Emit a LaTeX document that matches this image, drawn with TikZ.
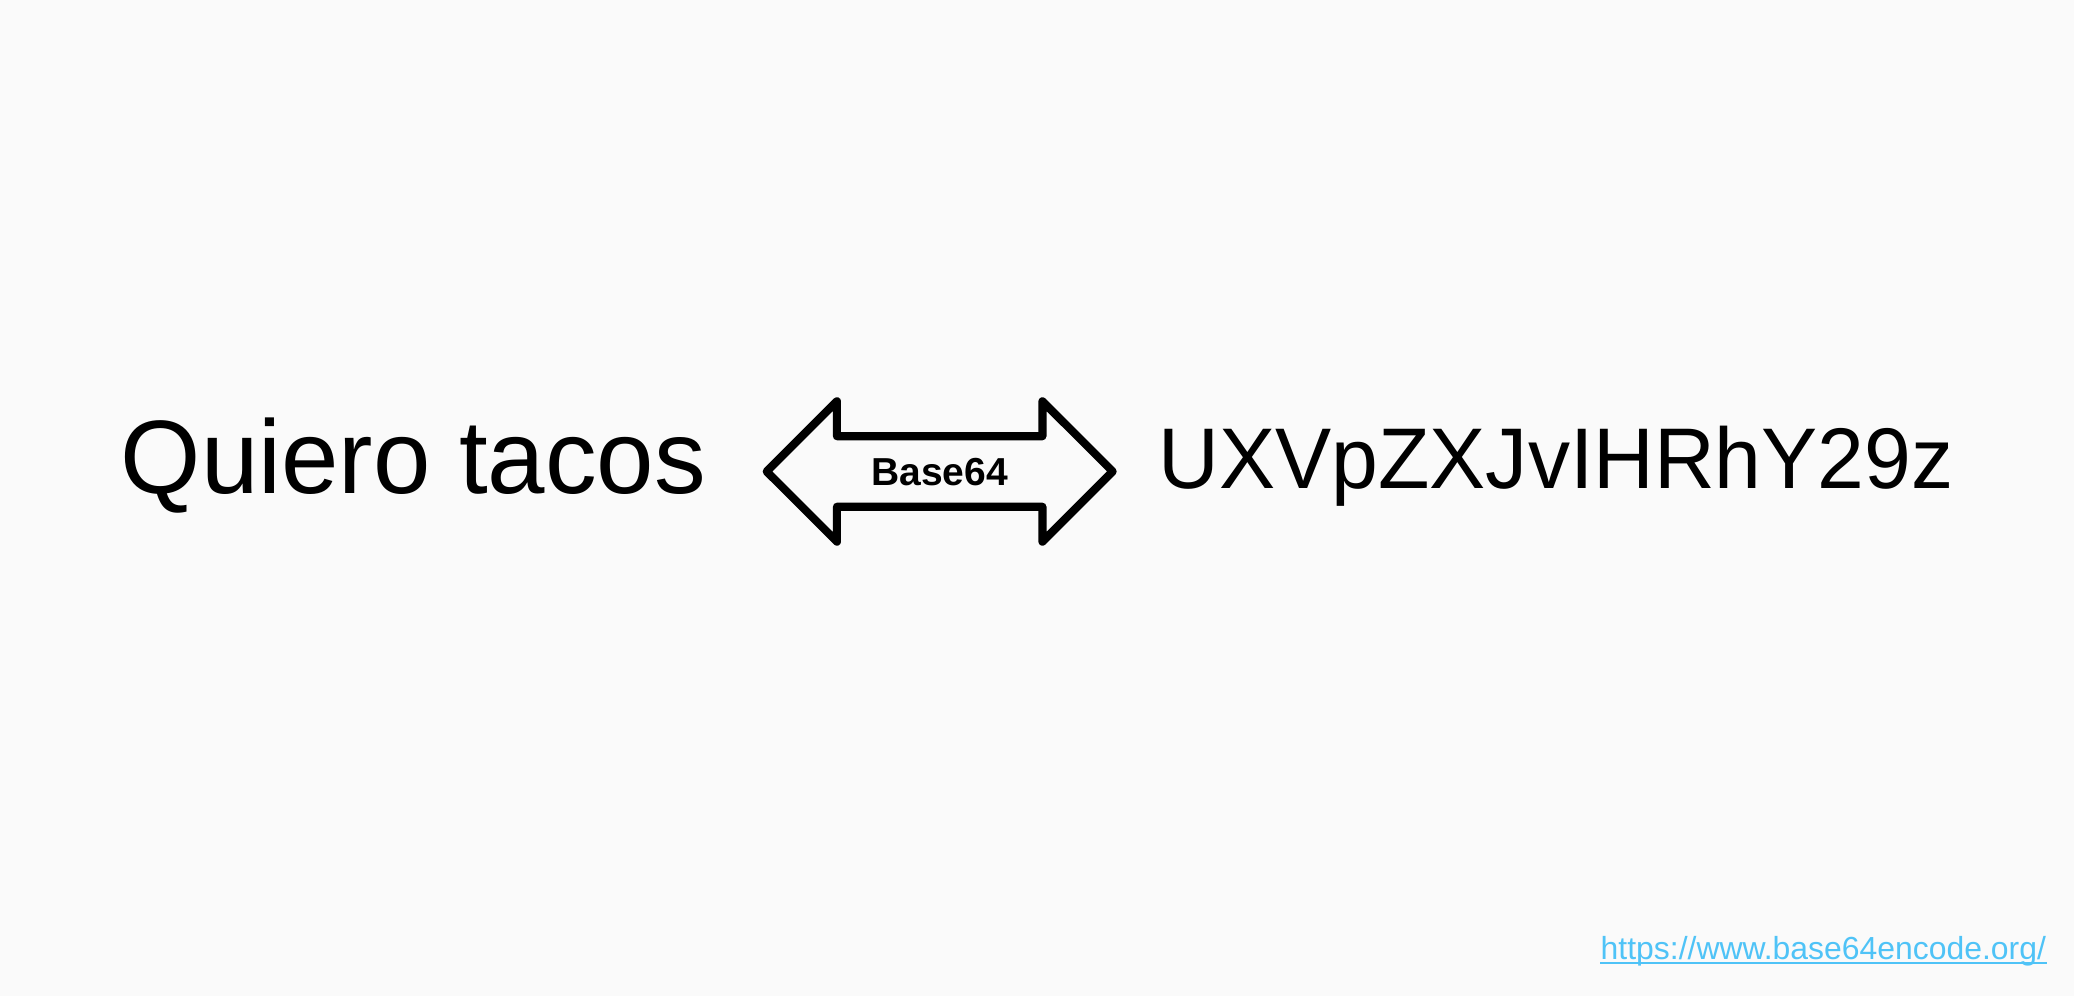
\documentclass[tikz,border=0pt]{standalone}
\usepackage{fontspec}
\setmainfont{Liberation Sans}
\usepackage{xcolor}
\usetikzlibrary{shapes.arrows, positioning}

\definecolor{bgcol}{HTML}{FAFAFA}
\definecolor{linkcol}{HTML}{4FC3F7}

\begin{document}
\begin{tikzpicture}[
        txt/.style={inner sep=0pt, anchor=base west},
        codec/.style={double arrow, draw, line width=2.3pt, line join=round,
            double arrow head extend=0.35cm, minimum height=3.46cm,
            inner xsep=0.5cm, inner ysep=0.172cm, text height=0.28cm, text depth=0pt,
            font=\fontsize{11.1}{13}\selectfont\bfseries},
        link/.style={inner sep=0pt, anchor=base west, text=linkcol, font=\fontsize{9.08}{11}\selectfont}
    ]
    \fill[bgcol] (0,0) rectangle (20.74,9.96);
    \useasboundingbox (0,0) rectangle (20.74,9.96);

    \node (plain) [txt, font=\fontsize{29.7}{34}\selectfont] at (1.20,5.02) {\scalebox{0.989}[1]{Quiero tacos}};
    \node (base) [codec] at (9.397,5.245) {Base64};
    \node (coded) [txt, font=\fontsize{24.5}{28}\selectfont] at (11.58,5.07) {\scalebox{0.977}[1]{UXVpZXJvIHRhY29z}};

    \node (url) [link] at (16.00,0.36) {https://www.base64encode.org/};
    \draw[linkcol, line width=0.6pt] ([yshift=-0.9pt]url.base west) -- ([yshift=-0.9pt]url.base east);
\end{tikzpicture}
\end{document}
